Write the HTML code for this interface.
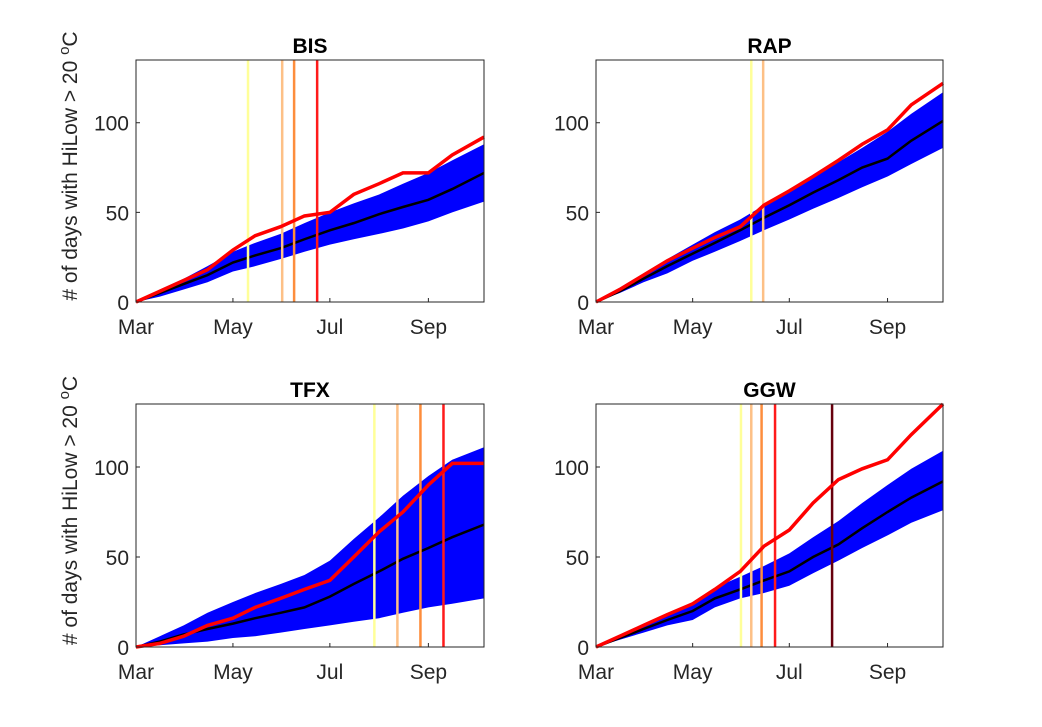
<!DOCTYPE html>
<html><head><meta charset="utf-8"><style>
body{margin:0;background:#fff;}
svg{display:block;font-family:"Liberation Sans",Arial,sans-serif;}
</style></head><body>
<svg id="chart" width="1042" height="727" viewBox="0 0 1042 727" xmlns="http://www.w3.org/2000/svg"></svg>
<script>
const days = [0,15,30,45,61,75,91,106,122,137,153,168,184,199,219];
const monthTicks = [0,61,122,184];
const monthLabels = ["Mar","May","Jul","Sep"];
const yTicks = [0,50,100];
const panelNames = ["BIS","RAP","TFX","GGW"];
const bisMean = [0,5,10,15,22,26,30,35,40,44,49,53,57,63,72];
const bisUpper = [0,7,13,20,28,33,38,44,50,55,60,66,72,79,88];
const bisLower = [0,3,7,11,17,20,24,28,32,35,38,41,45,50,56];
const bisRed = [0,6,12,18,29,37,42,48,50,60,66,72,72,82,92];
const rapMean = [0,6,13,20,27,33,40,47,54,61,68,75,80,90,101];
const rapUpper = [0,8,16,24,32,39,46,54,62,70,78,86,95,105,117];
const rapLower = [0,5,11,16,23,28,34,40,46,52,58,64,70,77,86];
const rapRed = [0,7,15,23,30,36,42,54,62,70,79,88,96,110,122];
const tfxMean = [0,3,7,10,13,16,19,22,28,35,42,49,55,61,68];
const tfxUpper = [0,6,12,19,25,30,35,40,48,60,72,84,95,104,111];
const tfxLower = [0,1,2,3,5,6,8,10,12,14,16,19,22,24,27];
const tfxRed = [0,2,6,12,16,22,27,32,37,50,64,75,90,102,102];
const ggwMean = [0,5,10,15,20,27,32,37,42,50,57,66,75,83,92];
const ggwUpper = [0,6,12,18,25,33,39,45,52,61,70,80,90,99,109];
const ggwLower = [0,4,8,12,15,22,27,30,34,41,48,55,62,69,76];
const ggwRed = [0,6,12,18,24,32,42,56,65,80,93,99,104,118,135];
const bisVlines = [70.5,92,99.5,114];
const rapVlines = [98,105.5];
const tfxVlines = [150,164.5,179,193.5];
const ggwVlines = [91.5,98,104.5,113,149];
const vColors = ["#ffff99","#fdc086","#fd8d3c","#ff1a1a","#67000d"];

const panels = [
 {x0:136,x1:484,y0:302,y1:60,mean:bisMean,up:bisUpper,lo:bisLower,red:bisRed,v:bisVlines,ylab:true},
 {x0:596,x1:943,y0:302,y1:60,mean:rapMean,up:rapUpper,lo:rapLower,red:rapRed,v:rapVlines,ylab:false},
 {x0:136,x1:484,y0:647,y1:404,mean:tfxMean,up:tfxUpper,lo:tfxLower,red:tfxRed,v:tfxVlines,ylab:true},
 {x0:596,x1:943,y0:647,y1:404,mean:ggwMean,up:ggwUpper,lo:ggwLower,red:ggwRed,v:ggwVlines,ylab:false}
];
const NS="http://www.w3.org/2000/svg";
const svg=document.getElementById('chart');
function mk(tag,attrs,parent){const e=document.createElementNS(NS,tag);for(const k in attrs)e.setAttribute(k,attrs[k]);(parent||svg).appendChild(e);return e;}
panels.forEach((p,i)=>{
  const g=mk('g',{});
  
  
  const X=d=>p.x0+(p.x1-p.x0)*d/219;
  const Y=v=>p.y0-(p.y0-p.y1)*v/135;
  let pts=days.map((d,j)=>X(d)+','+Y(p.up[j])).concat(days.slice().reverse().map((d,j)=>X(d)+','+Y(p.lo[days.length-1-j])));
  const band=mk('polygon',{points:pts.join(' '),fill:'#0000ff'},g);
  
  
  const mean=mk('polyline',{points:days.map((d,j)=>X(d)+','+Y(p.mean[j])).join(' '),fill:'none',stroke:'#000','stroke-width':2.5},g);
  
  
  p.v.forEach((d,k)=>{
    const l=mk('line',{x1:X(d),x2:X(d),y1:p.y1,y2:p.y0,stroke:vColors[k],'stroke-width':2.5},g);
    
    
  });
  const red=mk('polyline',{points:days.map((d,j)=>X(d)+','+Y(p.red[j])).join(' '),fill:'none',stroke:'#ff0000','stroke-width':3.5},g);
  
  
  mk('rect',{x:p.x0,y:p.y1,width:p.x1-p.x0,height:p.y0-p.y1,fill:'none',stroke:'#262626','stroke-width':1},g);
  monthTicks.forEach((d,k)=>{
    mk('line',{x1:X(d),x2:X(d),y1:p.y0,y2:p.y0-4,stroke:'#262626'},g);
    const t=mk('text',{x:X(d),y:p.y0+32,'text-anchor':'middle','font-size':21,fill:'#262626'},g);
    t.textContent=monthLabels[k];
    
    
  });
  yTicks.forEach(v=>{
    mk('line',{x1:p.x0,x2:p.x0+4,y1:Y(v),y2:Y(v),stroke:'#262626'},g);
    const t=mk('text',{x:p.x0-7,y:Y(v)+8,'text-anchor':'end','font-size':21,fill:'#262626'},g);
    t.textContent=v;
    
    
  });
  const tt=mk('text',{x:(p.x0+p.x1)/2,y:p.y1-7,'text-anchor':'middle','font-size':21,'font-weight':'bold',fill:'#000'},g);
  tt.textContent=panelNames[i];
  
  
  if(p.ylab){
    const cy=(p.y0+p.y1)/2-15;
    const yl=mk('text',{x:77,y:cy,'text-anchor':'middle','font-size':21,fill:'#262626',transform:'rotate(-90 77 '+cy+')'},g);
    yl.innerHTML='# of days with HiLow &gt; 20 <tspan dy="-8" font-size="15">o</tspan><tspan dy="8">C</tspan>';
    
    
  }
});
</script>
</body></html>
